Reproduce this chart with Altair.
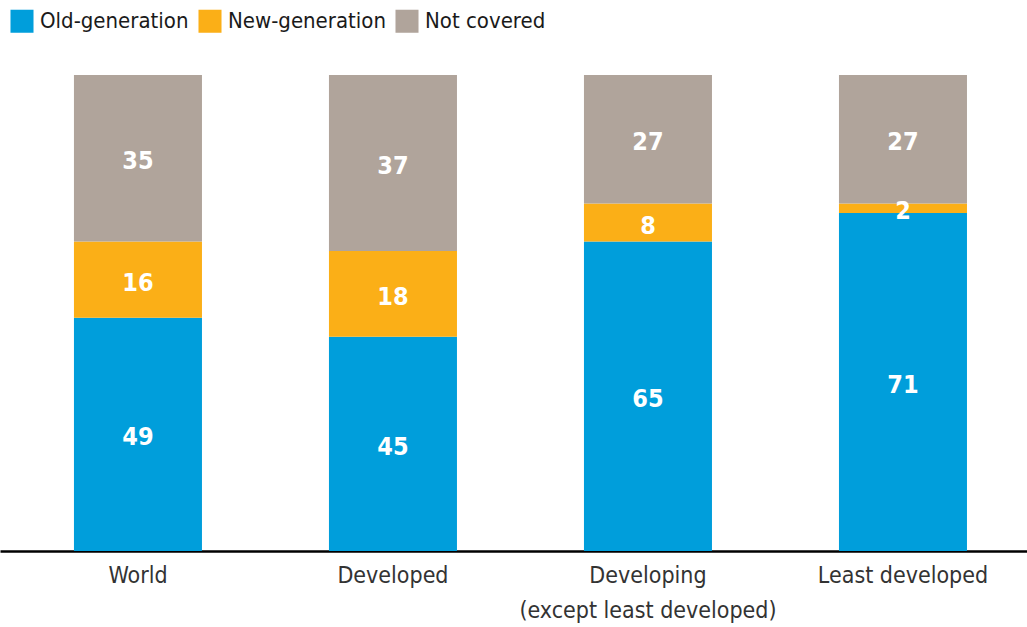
import altair as alt
import pandas as pd

regions = ["World", "Developed", "Developing|(except least developed)", "Least developed"]
series = ["Old-generation", "New-generation", "Not covered"]
old_gen = [49, 45, 65, 71]
new_gen = [16, 18, 8, 2]
not_cov = [35, 37, 27, 27]
colors = ["#009EDB", "#FBAF17", "#B0A49B"]

rows = []
for i, r in enumerate(regions):
    for k, (s, vals) in enumerate(zip(series, [old_gen, new_gen, not_cov])):
        rows.append({"region": r, "series": s, "value": vals[i], "ord": k})
df = pd.DataFrame(rows)

FONT = "DejaVu Sans Condensed, Roboto Condensed, Roboto, sans-serif"

xenc = alt.X("region:N", sort=regions, title=None,
             scale=alt.Scale(paddingInner=0.498, paddingOuter=0.2627, align=0.552),
             axis=alt.Axis(labelAngle=0, ticks=False, domainColor="#000000", domainWidth=2.5,
                           labelExpr="split(datum.value, '|')", labelFont=FONT, labelFontSize=23,
                           labelColor="#333333", labelPadding=13, labelLineHeight=35,
                           labelBaseline="top", labelLimit=0))

base = alt.Chart(df).transform_stack(
    stack="value", as_=["y0", "y1"], groupby=["region"], sort=[alt.SortField("ord")]
).transform_calculate(mid="(datum.y0 + datum.y1) / 2")

bars = base.mark_bar().encode(
    x=xenc,
    y=alt.Y("y0:Q", scale=alt.Scale(domain=[0, 100], nice=False), axis=None),
    y2="y1:Q",
    color=alt.Color("series:N", sort=series,
                    scale=alt.Scale(domain=series, range=colors),
                    legend=alt.Legend(title=None, orient="none", legendX=10, legendY=-66,
                                      direction="horizontal", symbolType="square",
                                      symbolSize=530, symbolStrokeWidth=0, symbolOpacity=1,
                                      labelFont=FONT, labelFontSize=22, labelColor="#1a1a1a",
                                      labelOffset=6, columnPadding=9, labelLimit=0)),
)

labels = base.mark_text(color="white", font=FONT, fontSize=25, fontWeight="bold",
                        baseline="middle", dy=3).encode(
    x=alt.X("region:N", sort=regions),
    y=alt.Y("mid:Q"),
    text=alt.Text("value:Q"),
)

chart = alt.layer(bars, labels).properties(
    width=1027, height=476,
    autosize=alt.AutoSizeParams(type="none"),
    padding={"left": 0, "top": 75, "right": 0, "bottom": 76},
).configure_view(stroke=None).configure_axis(grid=False)

chart.save("out.html", embed_options={"renderer": "svg", "actions": False})
